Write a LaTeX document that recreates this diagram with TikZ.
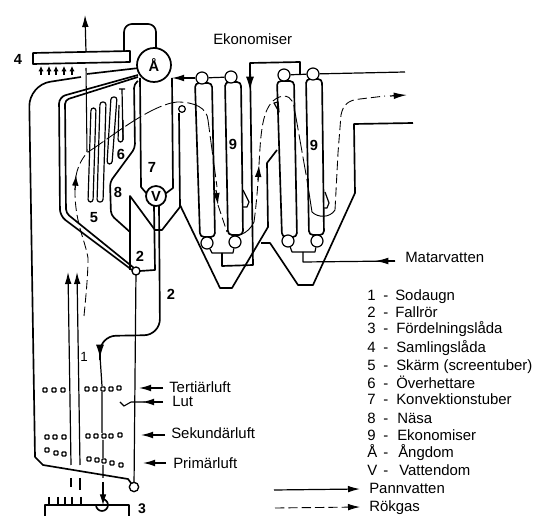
\documentclass[tikz,border=0pt]{standalone}
\usepackage{fontspec}
\setmainfont{Liberation Sans}
\usetikzlibrary{arrows.meta}
\tikzset{
  pipe/.style={line width=0.9pt,line join=round},
  thick pipe/.style={line width=1.25pt,line join=round},
  flow/.style={line width=0.9pt,-{Latex[length=9pt,width=5pt]}},
  gasline/.style={line width=0.65pt,dash pattern=on 7pt off 3pt},
  longgas/.style={line width=0.65pt,dash pattern=on 14pt off 3pt},
  tag/.style={font=\fontsize{11.2}{13}\selectfont,anchor=west,inner sep=0pt,text height=8.2pt,text depth=0.5pt},
  num/.style={font=\bfseries\fontsize{11}{13}\selectfont,inner sep=0pt},
  nozzle/.style={draw,line width=0.9pt,minimum size=3pt,inner sep=0pt,rounded corners=0.5pt},
  drum/.style={circle,draw,line width=1.3pt,fill=white,inner sep=0pt},
  hdr/.style={circle,draw,line width=0.9pt,fill=white,inner sep=0pt,minimum size=9pt},
  utube/.style={pipe,rounded corners=2pt},
}
\begin{document}
\begin{tikzpicture}[x=0.75pt,y=-0.75pt]
\useasboundingbox (0,0) rectangle (536,516);
\fill[white] (0,0) rectangle (536,516);
% header box 4
\draw[thick pipe] (33,53) -- (130,51) -- (130,62) -- (33,64) -- cycle;
\draw[thick pipe,rounded corners=6pt] (124,51) -- (124,24) -- (156,24) -- (156,50);
% flue stack
\draw[flow] (86,52) -- (85,15);
\draw[line width=.8pt] (86,68) -- (87,152);
\foreach \x in {41,49,56,64,72}{\draw[line width=.8pt,-{Latex[length=4pt,width=4pt]}] (\x,75) -- (\x,66);}
% outer wall
\draw[thick pipe] (139,68) -- (87,74);
\draw[thick pipe,rounded corners=16pt] (81,77) -- (29,85) -- (35,457);
\draw[thick pipe] (35,457) -- (43,465) -- (128,479) -- (134,487);
% screens
\draw[thick pipe,rounded corners=5pt] (138,75) -- (59,97) -- (60,216) -- (132,270);
\draw[thick pipe,rounded corners=3pt] (138,77) -- (65,100) -- (66,213) -- (134,268);
% screen tubes
\draw[utube] (91,108) -- (96,108) -- (93,202) -- (88,202) -- cycle;
\draw[utube] (100,102) -- (106,102) -- (103,202) -- (97,202) -- cycle;
\draw[utube] (111,97) -- (117,97) -- (112,164) -- (107,164) -- cycle;
\draw[pipe] (119,89) -- (125,89) (122,89) -- (123,140);
\draw[utube] (123,120) -- (123,142) -- (118,142) -- (119,105);
% nose
\draw[thick pipe,rounded corners=3pt] (138,81) -- (134,84) -- (135,148) -- (110,182) -- (111,215) -- (130,232);
\draw[thick pipe] (130,270) -- (130,196) -- (155,230) -- (162,230) -- (180,207) -- (179,113);
\node[circle,draw,line width=.9pt,minimum size=5pt,inner sep=0pt] (hook) at (182,109) {};
% convection tubes
\draw[thick pipe] (140,78) -- (141,187) -- (147,194);
\draw[thick pipe] (172,78) -- (173,188) -- (165,194);
% risers / downcomers
\draw[thick pipe] (154,206) -- (155,270) -- (140,271);
\draw[thick pipe,rounded corners=12pt] (159,205) -- (160,335) -- (100,336) -- (100,360);
\draw[line width=.9pt,-{Latex[length=10pt,width=6pt]}] (100,345) -- (100,358);
\draw[pipe] (100,356) -- (102,386) (102,392) -- (102,433) (103,440) -- (103,458) (103,465) -- (103,478);
\draw[pipe,-{Latex[length=8pt,width=5pt]}] (103,482) -- (103,505);
% air arrows
\draw[flow] (71,465) -- (68,272);
\draw[flow] (80,465) -- (77,272);
\draw[pipe] (71,478) -- (71,487) (80,478) -- (80,490);
\draw[pipe] (136,271) -- (134,487);
\node[circle,draw,line width=1pt,fill=white,minimum size=6pt,inner sep=0pt] (c2) at (136,271) {};
\node[circle,draw,line width=1pt,fill=white,minimum size=7pt,inner sep=0pt] (c3) at (134,487) {};
\node[font=\fontsize{10}{12}\selectfont,inner sep=0pt] (n1) at (84,357) {1};
% box 3
\draw[pipe] (45,516) -- (45,505) -- (129,505) -- (129,516);
\foreach \x in {49,58,65,72,81}{\draw[line width=.8pt] (\x,497) -- (\x,505);}
\draw[thick pipe] (96,505) arc[start angle=180,end angle=-90,radius=6] ;
\node[font=\bfseries\fontsize{10.5}{12}\selectfont,inner sep=0pt] (n3) at (142,509) {3};
% nozzles
\foreach \x/\y in {45/390,54/390,63/390,87/389,95/389,103/389,111/389,119/388,47/437,55/437,64/437,88/436,96/436,104/436,111/436,120/435,47/450,56/453,64/454,89/459,97/460,104/461,112/463,121/465}{\node[nozzle,fill=white] at (\x,\y) {};}
% air labels
\node[tag] (t1) at (169,387) {Tertiärluft};
\node[tag] (t2) at (172,401) {Lut};
\node[tag] (t3) at (171,433) {Sekundärluft};
\node[tag] (t4) at (173,463) {Primärluft};
\draw[flow] (163,388) -- (139,388);
\draw[flow] (165,435) -- (141,435);
\draw[flow] (166,463) -- (143,463);
\draw[flow] (163,402) -- (142,402);
\draw[line width=.8pt] (145,402) -- (131,402) -- (124,406) -- (120,402);
% economiser tubes
\draw[thick pipe,rounded corners=3pt] (195,83) -- (212,83) -- (215,237) -- (200,237) -- cycle;
\draw[thick pipe,rounded corners=3pt] (225,82) -- (241,82) -- (243,235) -- (228,235) -- cycle;
\draw[thick pipe,rounded corners=3pt] (277,81) -- (294,81) -- (297,237) -- (282,237) -- cycle;
\draw[thick pipe,rounded corners=3pt] (306,79) -- (322,79) -- (324,235) -- (309,235) -- cycle;
% drums
\node[drum,minimum size=25.5pt,font=\bfseries\fontsize{11}{13}\selectfont] (A) at (154,65) {Å};
\node[drum,minimum size=15pt,font=\bfseries\fontsize{11}{13}\selectfont] (V) at (156,196) {V};
% headers
\node[hdr] (h1) at (202,78) {};
\node[hdr] (h2) at (231,77) {};
\node[hdr] (h3) at (207,243) {};
\node[hdr] (h4) at (235,242) {};
\node[hdr] (h5) at (284,75) {};
\node[hdr] (h6) at (313,74) {};
\node[hdr] (h7) at (288,241) {};
\node[hdr] (h8) at (317,241) {};
\draw[pipe] (h1) -- (h2) (h5) -- (h6);
\draw[pipe,-{Latex[length=9pt,width=5pt]}] (h1) -- (172,78);
\draw[pipe] (h3) -- (212,253) -- (233,253) -- (h4);
\draw[pipe] (h7) -- (292,252) -- (315,252) -- (h8);
\draw[thick pipe] (222,253) -- (222,266) -- (253,265) -- (250,63) -- (300,62) -- (300,75);
\draw[pipe,-{Latex[length=10pt,width=6pt]}] (250,63) -- (250,90);
\coordinate (e1) at (405,72);
\draw[pipe] (h6) -- (e1);
\coordinate (e2) at (395,261);
\draw[pipe] (303,252) -- (303,262) -- (e2);
\draw[pipe,-{Latex[length=10pt,width=5pt]}] (e2) -- (375,261);
% hoppers and gas duct
\draw[thick pipe] (180,205) -- (220,288) -- (232,288) -- (268,227) -- (267,163) -- (277,150);
\draw[thick pipe] (261,243) -- (270,243) -- (298,285) -- (313,285) -- (355,193) -- (354,124) -- (413,123);
\draw[pipe] (243,190) -- (249,202) -- (247,207) -- (243,207);
\draw[pipe] (325,192) -- (329,203) -- (327,208) -- (323,208);
\draw[pipe] (274,103) -- (279,112) -- (278,102) -- cycle;
% gas path
\draw[gasline] (84,316) .. controls (86,295) and (88,275) .. (88,258) .. controls (85,240) and (76,225) .. (75,195) .. controls (75,188) and (75,183) .. (76,176);
\draw[line width=.9pt,-{Latex[length=8pt,width=5pt]}] (75,190) -- (76,175);
\draw[gasline] (76,176) .. controls (78,165) and (83,157) .. (88,152);
\draw[longgas] (88,152) .. controls (110,138) and (150,105) .. (177,102) .. controls (195,102) and (207,108) .. (208,120) -- (217,187);
\draw[line width=.9pt,-{Latex[length=9pt,width=5pt]}] (216,190) -- (218,205);
\draw[gasline] (218,205) -- (227,232);
\draw[line width=.7pt] (228,233) .. controls (235,238) and (248,235) .. (254,222);
\draw[gasline] (254,222) .. controls (257,200) and (258,180) .. (259,170);
\draw[line width=.9pt,-{Latex[length=9pt,width=5pt]}] (258,180) -- (259,165);
\draw[gasline] (259,165) .. controls (261,130) and (262,100) .. (283,96) .. controls (293,96) and (294,105) .. (295,112);
\draw[longgas] (295,112) -- (307,180);
\draw[line width=.7pt] (307,180) -- (312,212) .. controls (318,218) and (330,218) .. (335,210);
\draw[gasline] (335,210) -- (338,153) -- (341,115) .. controls (343,105) and (348,100) .. (360,99) -- (385,96);
\draw[line width=.9pt,-{Latex[length=10pt,width=5pt]}] (390,96) -- (407,95);
% labels
\node[tag] (ek) at (213,39) {Ekonomiser};
\node[num] (n4) at (18,59) {4};
\node[num] (n5) at (94,218) {5};
\node[num] (n6) at (121,154) {6};
\node[num] (n7) at (152,167) {7};
\node[num] (n8) at (118,192) {8};
\node[num] (n2a) at (140,256) {2};
\node[num] (n2b) at (171,294) {2};
\node[num] (n9a) at (233,144) {9};
\node[num] (n9b) at (314,145) {9};
\node[tag] (mv) at (405,257) {Matarvatten};
% legend
\foreach \n/\t/\y/\tx in {1/Sodaugn/295/395,2/Fallrör/312/395,3/Fördelningslåda/328/396,4/Samlingslåda/347/396,5/Skärm (screentuber)/365/396,6/Överhettare/383/396,7/Konvektionstuber/399/396,8/Näsa/418/397,9/Ekonomiser/435/397,Å/Ångdom/452/398,V/Vattendom/470/399}{
  \node[tag] at (367,\y) {\n};
  \node[tag] at (383,\y) {-};
  \node[tag] at (\tx,\y) {\t};
}
\coordinate (p1) at (274,490);
\coordinate (p2) at (360,489);
\draw[flow] (p1) -- (p2);
\node[tag] (pv) at (369,488) {Pannvatten};
\coordinate (r1) at (275,508);
\coordinate (r2) at (360,507);
\draw[gasline,-{Latex[length=9pt,width=5pt]}] (r1) -- (r2);
\node[tag] (rg) at (369,506) {Rökgas};
\end{tikzpicture}
\end{document}
